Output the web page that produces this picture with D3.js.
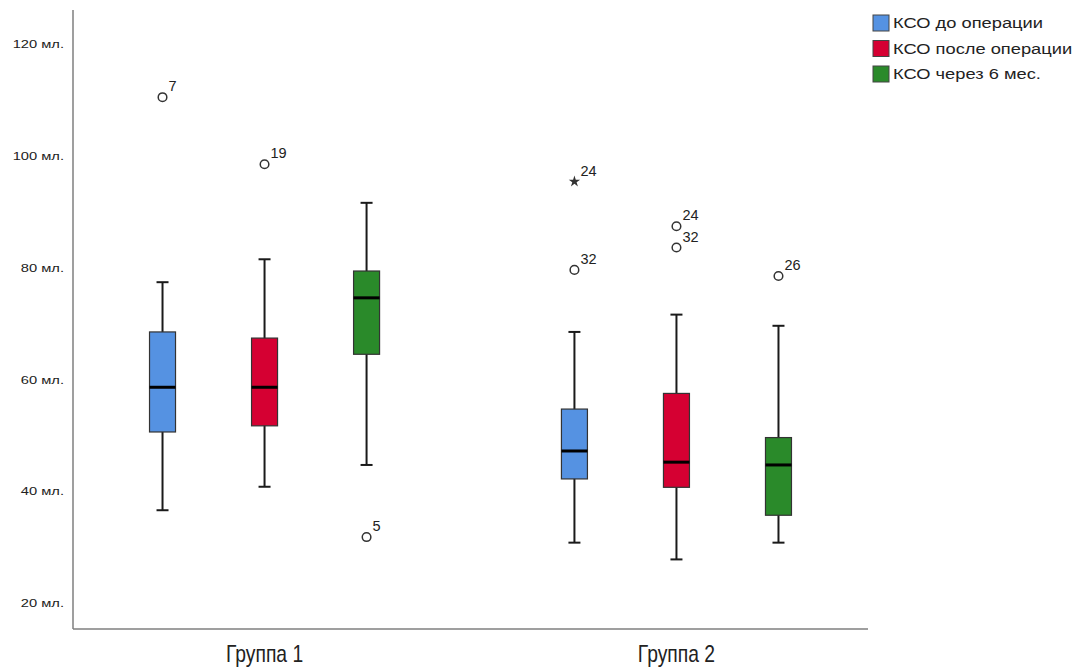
<!DOCTYPE html>
<html>
<head>
<meta charset="utf-8">
<script src="https://cdn.jsdelivr.net/npm/d3@7"></script>
<style>
  body { margin: 0; background: #fff; }
  svg { display: block; font-family: Arial, "Liberation Sans", sans-serif; }
</style>
</head>
<body>
<div id="vis"></div>
<script>
const FRAME_WIDTH = 1085;
const FRAME_HEIGHT = 671;
const MARGINS = {left: 73, right: 217, top: 10, bottom: 42};

// data
const groups = ["Группа 1", "Группа 2"];
const series = ["КСО до операции", "КСО после операции", "КСО через 6 мес."];
const colors = ["#5592e2", "#d50032", "#2a8a2a"];

// [whisker low, Q1, median, Q3, whisker high], one row per group, per series
const stats_before = [[36.6, 50.6, 58.6, 68.5, 77.4], [30.8, 42.2, 47.2, 54.7, 68.5]];
const stats_after  = [[40.8, 51.7, 58.6, 67.4, 81.5], [27.8, 40.7, 45.2, 57.5, 71.6]];
const stats_6m     = [[44.7, 64.5, 74.6, 79.4, 91.6], [30.8, 35.7, 44.7, 49.6, 69.6]];

// outliers: group, series index, value, case label, kind
const outliers = [
  {group: "Группа 1", s: 0, value: 110.5, label: "7",  kind: "o"},
  {group: "Группа 1", s: 1, value: 98.5,  label: "19", kind: "o"},
  {group: "Группа 1", s: 2, value: 31.8,  label: "5",  kind: "o"},
  {group: "Группа 2", s: 0, value: 95.4,  label: "24", kind: "*"},
  {group: "Группа 2", s: 0, value: 79.6,  label: "32", kind: "o"},
  {group: "Группа 2", s: 1, value: 87.4,  label: "24", kind: "o"},
  {group: "Группа 2", s: 1, value: 83.6,  label: "32", kind: "o"},
  {group: "Группа 2", s: 2, value: 78.5,  label: "26", kind: "o"}
];

const yTicks = [20, 40, 60, 80, 100, 120];

const allStats = [stats_before, stats_after, stats_6m];
const boxes = [];
groups.forEach((g, gi) => {
  series.forEach((s, si) => {
    const st = allStats[si][gi];
    boxes.push({group: g, s: si, lo: st[0], q1: st[1], med: st[2], q3: st[3], hi: st[4]});
  });
});

const VIS_WIDTH = FRAME_WIDTH - MARGINS.left - MARGINS.right;
const VIS_HEIGHT = FRAME_HEIGHT - MARGINS.top - MARGINS.bottom;

const svg = d3.select("#vis")
  .append("svg")
    .attr("width", FRAME_WIDTH)
    .attr("height", FRAME_HEIGHT);

const X_SCALE = d3.scaleBand()
  .domain(groups)
  .range([MARGINS.left, MARGINS.left + VIS_WIDTH])
  .paddingInner(0.2)
  .paddingOuter(0.065);

const X_INNER = d3.scalePoint()
  .domain(d3.range(series.length))
  .range([0, X_SCALE.bandwidth()])
  .padding(0.615);

const Y_SCALE = d3.scaleLinear()
  .domain([15.35, 126.1])
  .range([MARGINS.top + VIS_HEIGHT, MARGINS.top]);

const BOX_W = 26;
const CAP_W = 12;
const cx = d => X_SCALE(d.group) + X_INNER(d.s);

// axes (SPSS style: plain lines, no tick marks)
svg.append("line")
  .attr("x1", MARGINS.left).attr("x2", MARGINS.left)
  .attr("y1", MARGINS.top).attr("y2", MARGINS.top + VIS_HEIGHT)
  .attr("stroke", "#7f7f7f").attr("stroke-width", 1.5);
svg.append("line")
  .attr("x1", MARGINS.left).attr("x2", MARGINS.left + VIS_WIDTH)
  .attr("y1", MARGINS.top + VIS_HEIGHT).attr("y2", MARGINS.top + VIS_HEIGHT)
  .attr("stroke", "#7f7f7f").attr("stroke-width", 1.5);

// tick labels are a bit wide in the original, so stretch them
svg.selectAll(".ytick")
  .data(yTicks)
  .enter()
  .append("text")
    .attr("class", "ytick")
    .attr("transform", d => `translate(${MARGINS.left - 9},${Y_SCALE(d)}) scale(1.28,1)`)
    .attr("dy", "0.36em")
    .attr("text-anchor", "end")
    .style("font-size", "11.5px")
    .attr("fill", "#222")
    .text(d => d + " мл.");

svg.selectAll(".xlabel")
  .data(groups)
  .enter()
  .append("text")
    .attr("class", "xlabel")
    .attr("transform", d => `translate(${X_SCALE(d) + X_SCALE.bandwidth() / 2},${MARGINS.top + VIS_HEIGHT + 33}) scale(0.84,1)`)
    .attr("text-anchor", "middle")
    .style("font-size", "23px")
    .attr("fill", "#222")
    .text(d => d);

// whiskers
const bx = svg.selectAll(".box")
  .data(boxes)
  .enter()
  .append("g")
    .attr("class", "box");

bx.append("line")
  .attr("x1", cx).attr("x2", cx)
  .attr("y1", d => Y_SCALE(d.hi)).attr("y2", d => Y_SCALE(d.lo))
  .attr("stroke", "#1a1a1a").attr("stroke-width", 2);

bx.append("line")
  .attr("x1", d => cx(d) - CAP_W / 2).attr("x2", d => cx(d) + CAP_W / 2)
  .attr("y1", d => Y_SCALE(d.hi)).attr("y2", d => Y_SCALE(d.hi))
  .attr("stroke", "#1a1a1a").attr("stroke-width", 2);

bx.append("line")
  .attr("x1", d => cx(d) - CAP_W / 2).attr("x2", d => cx(d) + CAP_W / 2)
  .attr("y1", d => Y_SCALE(d.lo)).attr("y2", d => Y_SCALE(d.lo))
  .attr("stroke", "#1a1a1a").attr("stroke-width", 2);

bx.append("rect")
  .attr("x", d => cx(d) - BOX_W / 2)
  .attr("y", d => Y_SCALE(d.q3))
  .attr("width", BOX_W)
  .attr("height", d => Y_SCALE(d.q1) - Y_SCALE(d.q3))
  .attr("fill", d => colors[d.s])
  .attr("stroke", "#333")
  .attr("stroke-width", 1.2);

bx.append("line")
  .attr("x1", d => cx(d) - BOX_W / 2).attr("x2", d => cx(d) + BOX_W / 2)
  .attr("y1", d => Y_SCALE(d.med)).attr("y2", d => Y_SCALE(d.med))
  .attr("stroke", "#000").attr("stroke-width", 3);

// outliers
const out = svg.selectAll(".outlier")
  .data(outliers)
  .enter()
  .append("g")
    .attr("class", "outlier");

out.filter(d => d.kind === "o")
  .append("circle")
    .attr("cx", cx)
    .attr("cy", d => Y_SCALE(d.value))
    .attr("r", 4.3)
    .attr("fill", "none")
    .attr("stroke", "#333")
    .attr("stroke-width", 1.5);

out.filter(d => d.kind === "*")
  .append("path")
    .attr("d", d3.symbol(d3.symbolStar, 40))
    .attr("transform", d => `translate(${cx(d)},${Y_SCALE(d.value)})`)
    .attr("fill", "#333");

out.append("text")
  .attr("x", d => cx(d) + 6)
  .attr("y", d => Y_SCALE(d.value) - 6)
  .style("font-size", "14.5px")
  .attr("fill", "#222")
  .text(d => d.label);

// legend
const legend = svg.selectAll(".legend")
  .data(series)
  .enter()
  .append("g")
    .attr("class", "legend")
    .attr("transform", (d, i) => `translate(873, ${15 + i * 25.5})`);

legend.append("rect")
  .attr("width", 16).attr("height", 16)
  .attr("fill", (d, i) => colors[i])
  .attr("stroke", "#444").attr("stroke-width", 1);

legend.append("text")
  .attr("transform", "translate(20,8) scale(1.22,1)")
  .attr("dy", "0.36em")
  .style("font-size", "15px")
  .attr("fill", "#222")
  .text(d => d);
</script>
</body>
</html>
